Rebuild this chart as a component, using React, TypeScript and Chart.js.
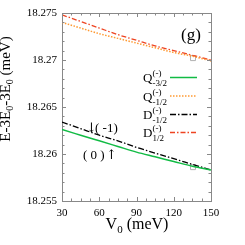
import React, { useEffect, useRef } from "react";
import { Chart, registerables } from "chart.js";

Chart.register(...registerables);

const V0 = [30, 45, 60, 75, 90, 105, 120, 135, 150];
const Q_m32 = [18.2626, 18.262, 18.2614, 18.2608, 18.2602, 18.2597, 18.2592, 18.2587, 18.2583];
const Q_m12 = [18.274, 18.2734, 18.2728, 18.2723, 18.2718, 18.2713, 18.2708, 18.2704, 18.2699];
const D_m12 = [18.2634, 18.2627, 18.262, 18.2614, 18.2607, 18.2601, 18.2595, 18.2589, 18.2583];
const D_p12 = [18.2748, 18.2741, 18.2734, 18.2727, 18.2721, 18.2715, 18.271, 18.2705, 18.27];
const markerX = [135.5, 135.5];
const markerY = [18.2702, 18.2586];
const xTicks = [30, 60, 90, 120, 150];
const yTicks = [18.255, 18.26, 18.265, 18.27, 18.275];
const yTickLabels = ["18.255", "18.26", "18.265", "18.27", "18.275"];
const legendMain = ["Q", "Q", "D", "D"];
const legendSup = ["(-)", "(-)", "(-)", "(-)"];
const legendSub = ["-3/2", "-1/2", "-1/2", "1/2"];

const SERIF = "'Liberation Serif', 'Times New Roman', serif";

function pts(ys: number[]) {
  return V0.map((x, i) => ({ x, y: ys[i] }));
}

const decor = {
  id: "decor",
  afterDraw(chart: any) {
    const ctx = chart.ctx as CanvasRenderingContext2D;
    const { left, right, top, bottom } = chart.chartArea;
    const xs = chart.scales.x;
    const ys = chart.scales.y;
    ctx.save();
    ctx.strokeStyle = "#888";
    ctx.lineWidth = 1;
    ctx.beginPath();
    ctx.moveTo(left, top + 0.5);
    ctx.lineTo(right + 0.5, top + 0.5);
    ctx.lineTo(right + 0.5, bottom);
    ctx.stroke();
    ctx.beginPath();
    for (let v = 30; v <= 150.001; v += 7.5) {
      const px = Math.round(xs.getPixelForValue(v)) + 0.5;
      const major = Math.abs((v - 30) % 30) < 0.01;
      const L = major ? 4 : 2.5;
      ctx.moveTo(px, bottom);
      ctx.lineTo(px, bottom - L);
      ctx.moveTo(px, top);
      ctx.lineTo(px, top + L);
    }
    for (let k = 0; k <= 20; k++) {
      const v = 18.255 + k * 0.001;
      const py = Math.round(ys.getPixelForValue(v)) + 0.5;
      const major = k % 5 === 0;
      const L = major ? 4 : 2.5;
      ctx.moveTo(left, py);
      ctx.lineTo(left + L, py);
      ctx.moveTo(right, py);
      ctx.lineTo(right - L, py);
    }
    ctx.stroke();

    ctx.fillStyle = "#000";
    ctx.textBaseline = "alphabetic";
    const ds = chart.data.datasets;
    const rowY = [77, 95.5, 114, 132];
    for (let i = 0; i < 4; i++) {
      const y = rowY[i];
      ctx.textAlign = "left";
      ctx.font = `13px ${SERIF}`;
      ctx.fillText(legendMain[i], 143, y + 5);
      const w = ctx.measureText(legendMain[i]).width;
      ctx.font = `9px ${SERIF}`;
      ctx.fillText(legendSup[i], 143 + w, y - 1);
      ctx.fillText(legendSub[i], 143 + w, y + 9);
      const d = ds[i];
      ctx.save();
      ctx.strokeStyle = d.borderColor;
      ctx.lineWidth = d.borderWidth;
      ctx.setLineDash(d.borderDash || []);
      ctx.beginPath();
      ctx.moveTo(170, y + 0.5);
      ctx.lineTo(197, y + 0.5);
      ctx.stroke();
      ctx.restore();
    }
    ctx.font = `17px ${SERIF}`;
    ctx.textAlign = "left";
    ctx.fillText("(g)", 181, 40);
    // annotations
    ctx.font = `13px 'DejaVu Serif', serif`;
    ctx.fillText("\u2193", 86, 132);
    ctx.fillText("\u2191", 106, 159);
    ctx.font = `13px ${SERIF}`;
    ctx.fillText("( -1)", 95, 132);
    ctx.fillText("( 0 )", 83, 159);
    // x title
    const t1 = "V";
    const t3 = " (meV)";
    ctx.font = `16px ${SERIF}`;
    const w1 = ctx.measureText(t1).width;
    const w3 = ctx.measureText(t3).width;
    ctx.font = `11px ${SERIF}`;
    const w2 = ctx.measureText("0").width;
    const x0 = 137 - (w1 + w2 + w3) / 2;
    ctx.font = `16px ${SERIF}`;
    ctx.fillText(t1, x0, 229);
    ctx.font = `11px ${SERIF}`;
    ctx.fillText("0", x0 + w1, 233);
    ctx.font = `16px ${SERIF}`;
    ctx.fillText(t3, x0 + w1 + w2, 229);
    // y title rotated
    ctx.save();
    ctx.translate(10, 89);
    ctx.rotate(-Math.PI / 2);
    const parts: [string, number, number][] = [
      ["E-3E", 15, 0],
      ["0", 10, 3],
      ["-3E", 15, 0],
      ["0", 10, 3],
      [" (meV)", 15, 0],
    ];
    let tot = 0;
    for (const [s, f] of parts) {
      ctx.font = `${f}px ${SERIF}`;
      tot += ctx.measureText(s).width;
    }
    let cx = -tot / 2;
    for (const [s, f, dy] of parts) {
      ctx.font = `${f}px ${SERIF}`;
      ctx.fillText(s, cx, dy);
      cx += ctx.measureText(s).width;
    }
    ctx.restore();
    ctx.restore();
  },
};

export default function App() {
  const ref = useRef<HTMLCanvasElement>(null);
  useEffect(() => {
    if (!ref.current) return;
    const chart = new Chart(ref.current, {
      type: "line",
      data: {
        datasets: [
          { label: "Q(-)-3/2", data: pts(Q_m32), borderColor: "#11bb44", borderWidth: 1.5, pointRadius: 0, borderDash: [], cubicInterpolationMode: "monotone" } as any,
          { label: "Q(-)-1/2", data: pts(Q_m12), borderColor: "#ff9a33", borderWidth: 1.5, pointRadius: 0, borderDash: [1.5, 1.5], cubicInterpolationMode: "monotone" } as any,
          { label: "D(-)-1/2", data: pts(D_m12), borderColor: "#000000", borderWidth: 1.3, pointRadius: 0, borderDash: [6, 2, 1.5, 2], cubicInterpolationMode: "monotone" } as any,
          { label: "D(-)1/2", data: pts(D_p12), borderColor: "#ee4422", borderWidth: 1.3, pointRadius: 0, borderDash: [5, 2, 1.5, 2], cubicInterpolationMode: "monotone" } as any,
          {
            label: "marks",
            data: markerX.map((x, i) => ({ x, y: markerY[i] })),
            showLine: false,
            pointStyle: "rect",
            pointRadius: 3.5,
            borderColor: "#b0b0b0",
            backgroundColor: "rgba(0,0,0,0)",
            borderWidth: 1,
          } as any,
        ],
      },
      options: {
        responsive: false,
        animation: false,
        events: [],
        layout: { padding: { top: 13, right: 34, left: 0, bottom: 0 } },
        plugins: { legend: { display: false }, tooltip: { enabled: false } },
        scales: {
          x: {
            type: "linear",
            min: 30,
            max: 150,
            afterFit: (s: any) => { s.height = 44; },
            afterBuildTicks: (s: any) => { s.ticks = xTicks.map((v) => ({ value: v })); },
            grid: { display: false, drawTicks: false },
            border: { display: true, color: "#888", width: 1 },
            ticks: { color: "#000", font: { family: SERIF, size: 11 }, padding: 6, maxRotation: 0 },
          },
          y: {
            type: "linear",
            min: 18.255,
            max: 18.275,
            afterFit: (s: any) => { s.width = 62; },
            afterBuildTicks: (s: any) => { s.ticks = yTicks.map((v) => ({ value: v })); },
            grid: { display: false, drawTicks: false },
            border: { display: true, color: "#888", width: 1 },
            ticks: {
              color: "#000",
              font: { family: SERIF, size: 11 },
              padding: 5,
              callback: (v: any) => {
                const i = yTicks.findIndex((t) => Math.abs(t - Number(v)) < 1e-6);
                return i >= 0 ? yTickLabels[i] : "";
              },
            },
          },
        },
      },
      plugins: [decor],
    });
    return () => chart.destroy();
  }, []);
  return (
    <div style={{ position: "fixed", left: 0, top: 0, width: 245, height: 245, background: "#fff" }}>
      <canvas ref={ref} width={245} height={245} />
    </div>
  );
}
